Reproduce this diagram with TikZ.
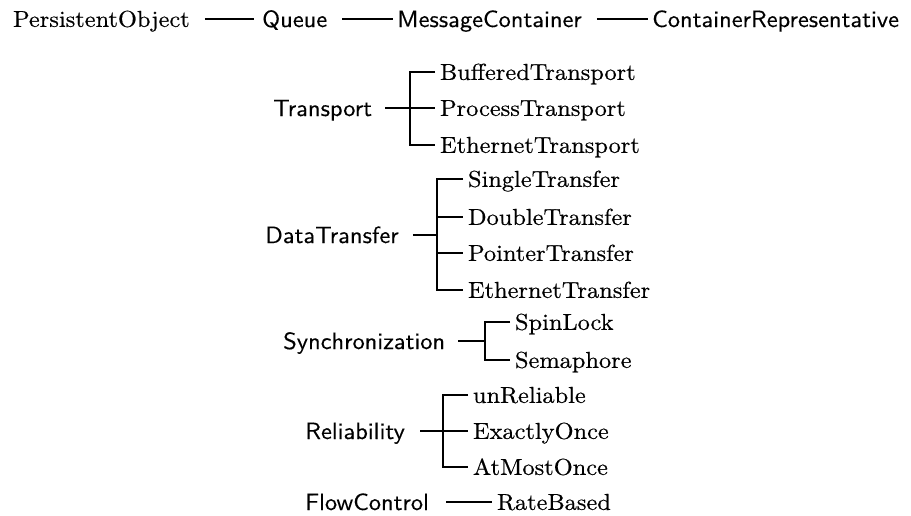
\documentclass[tikz,border=0pt]{standalone}
\usepackage{fontspec}
\newfontfamily\leaffont{lmroman10-regular.otf}[FakeStretch=1.06,FakeBold=0.5]
\newfontfamily\lblfont{lmsans10-regular.otf}[FakeStretch=1.04,FakeBold=0.3]
\begin{document}
\begin{tikzpicture}[x=1pt,y=-1pt,
  lbl/.style={font=\lblfont\fontsize{23.5}{28}\selectfont, anchor=west, inner sep=0pt, text height=16pt, text depth=0pt},
  leaf/.style={font=\leaffont\fontsize{23}{28}\selectfont, anchor=west, inner sep=0pt, outer xsep=5pt, text height=15.7pt, text depth=0pt},
  conn/.style={line width=1.3pt}]
\useasboundingbox (0,0) rectangle (911,515);
% top row
\node[leaf, outer xsep=0pt] (po) at (13,19) {PersistentObject};
\node[lbl] (qu) at (262,19) {Queue};
\node[lbl] (mc) at (397,19) {MessageContainer};
\node[lbl] (cr) at (652,19) {ContainerRepresentative};
\draw[conn, shorten <=15pt, shorten >=8pt] (po.east) -- (qu.west);
\draw[conn, shorten <=15pt, shorten >=4pt] (qu.east) -- (mc.west);
\draw[conn, shorten <=15pt, shorten >=4pt] (mc.east) -- (cr.west);
% Transport
\node[lbl] (tr) at (273,108) {Transport};
\coordinate (tj) at (410,108);
\node[leaf] (tr1) at (435,72) {BufferedTransport};
\node[leaf] (tr2) at (435,108) {ProcessTransport};
\node[leaf] (tr3) at (435,145) {EthernetTransport};
\draw[conn, shorten <=13pt] (tr.east) -- (tj);
\draw[conn] (tr1.west) -| (tj |- tr3.west) -- (tr3.west);
\draw[conn] (tj |- tr2.west) -- (tr2.west);
% DataTransfer
\node[lbl] (dt) at (265,235) {DataTransfer};
\coordinate (dj) at (437,235);
\node[leaf] (dt1) at (463,179) {SingleTransfer};
\node[leaf] (dt2) at (463,217) {DoubleTransfer};
\node[leaf] (dt3) at (463,253) {PointerTransfer};
\node[leaf] (dt4) at (463,290) {EthernetTransfer};
\draw[conn, shorten <=14pt] (dt.east) -- (dj);
\draw[conn] (dt1.west) -| (dj |- dt4.west) -- (dt4.west);
\draw[conn] (dj |- dt2.west) -- (dt2.west);
\draw[conn] (dj |- dt3.west) -- (dt3.west);
% Synchronization
\node[lbl] (sy) at (283,341) {Synchronization};
\coordinate (sj) at (485,341);
\node[leaf] (sy1) at (510,322) {SpinLock};
\node[leaf] (sy2) at (510,360) {Semaphore};
\draw[conn, shorten <=13pt] (sy.east) -- (sj);
\draw[conn] (sy1.west) -| (sj |- sy2.west) -- (sy2.west);
% Reliability
\node[lbl] (re) at (305,431) {Reliability};
\coordinate (rj) at (443,431);
\node[leaf] (re1) at (468,395) {unReliable};
\node[leaf] (re2) at (468,431) {ExactlyOnce};
\node[leaf] (re3) at (468,467) {AtMostOnce};
\draw[conn, shorten <=15pt] (re.east) -- (rj);
\draw[conn] (re1.west) -| (rj |- re3.west) -- (re3.west);
\draw[conn] (rj |- re2.west) -- (re2.west);
% FlowControl
\node[lbl] (fc) at (305,502) {FlowControl};
\node[leaf] (fc1) at (492,502) {RateBased};
\draw[conn, shorten <=17pt] (fc.east) -- (fc1.west);
\end{tikzpicture}
\end{document}
